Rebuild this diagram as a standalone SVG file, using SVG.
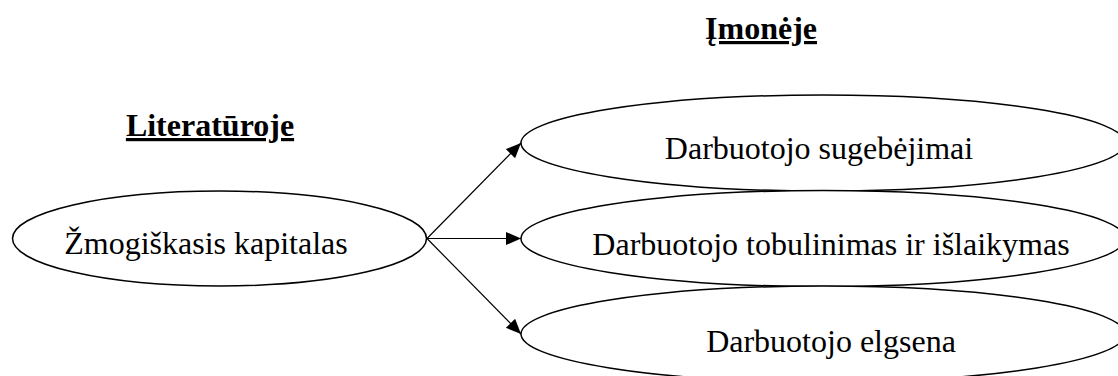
<svg xmlns="http://www.w3.org/2000/svg" width="1118" height="376" viewBox="0 0 1118 376">
  <defs>
    <style>
      .bg { fill: #ffffff; }
      .node { fill: #ffffff; stroke: #000000; stroke-width: 1.5; }
      .label { font-family: "Liberation Serif", "Times New Roman", serif; font-size: 32px; fill: #000000; text-anchor: middle; }
      .heading { font-family: "Liberation Serif", "Times New Roman", serif; font-size: 32px; font-weight: bold; fill: #000000; text-anchor: middle; text-decoration: underline; text-decoration-thickness: 3px; text-underline-offset: 4px; }
      .edge { fill: none; stroke: #000000; stroke-width: 1.2; }
    </style>
    <marker id="arrow" markerUnits="userSpaceOnUse" markerWidth="16" markerHeight="14" refX="15" refY="6.5" orient="auto">
      <path d="M0,0 L15,6.5 L0,13 Z" fill="#000000"/>
    </marker>
  </defs>
  <rect class="bg" x="0" y="0" width="1118" height="376"/>

  <g id="heading-imoneje">
    <text class="heading" x="761" y="39">Įmonėje</text>
  </g>
  <g id="heading-literaturoje">
    <text class="heading" x="210" y="136">Literatūroje</text>
  </g>

  <g id="node-zmogiskasis-kapitalas">
    <ellipse class="node" cx="219.5" cy="238.5" rx="207" ry="47.5"/>
    <text class="label" x="206" y="254">Žmogiškasis kapitalas</text>
  </g>

  <g id="node-darbuotojo-sugebejimai">
    <ellipse class="node" cx="823" cy="143" rx="302" ry="48"/>
    <text class="label" x="819" y="159">Darbuotojo sugebėjimai</text>
  </g>

  <g id="node-darbuotojo-tobulinimas">
    <ellipse class="node" cx="823" cy="238.5" rx="302" ry="48"/>
    <text class="label" x="831" y="255">Darbuotojo tobulinimas ir išlaikymas</text>
  </g>

  <g id="node-darbuotojo-elgsena">
    <ellipse class="node" cx="823" cy="334" rx="302" ry="48"/>
    <text class="label" x="831" y="352">Darbuotojo elgsena</text>
  </g>

  <g id="connectors">
    <line class="edge" x1="427" y1="238.5" x2="521" y2="143" marker-end="url(#arrow)"/>
    <line class="edge" x1="427" y1="238.5" x2="521" y2="238.5" marker-end="url(#arrow)"/>
    <line class="edge" x1="427" y1="238.5" x2="521" y2="334" marker-end="url(#arrow)"/>
  </g>
</svg>
